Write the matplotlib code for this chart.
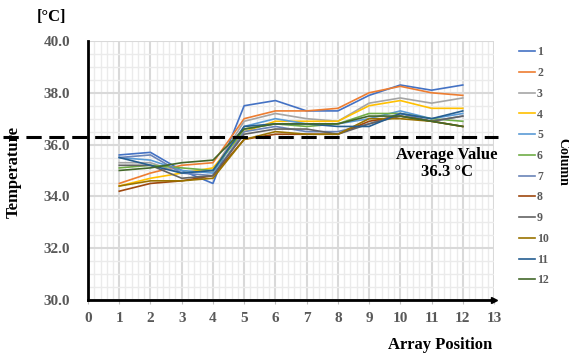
import numpy as np
import matplotlib
matplotlib.use("Agg")
import matplotlib.pyplot as plt
from matplotlib.ticker import MultipleLocator
import matplotlib.transforms as mtransforms

plt.rcParams['font.family'] = ['Liberation Serif', 'DejaVu Serif']

# array positions 1..12, one line per column
positions = list(range(1, 13))
columns = [str(i) for i in range(1, 13)]
col1 = [35.6, 35.7, 35.0, 34.5, 37.5, 37.7, 37.3, 37.3, 37.9, 38.3, 38.1, 38.3]
col2 = [34.5, 34.9, 35.2, 35.3, 37.0, 37.3, 37.3, 37.4, 38.0, 38.25, 38.0, 37.9]
col3 = [35.3, 35.3, 34.9, 35.0, 36.9, 37.2, 37.0, 36.9, 37.6, 37.8, 37.6, 37.8]
col4 = [34.4, 34.7, 34.9, 35.1, 36.5, 36.9, 36.9, 36.9, 37.5, 37.7, 37.4, 37.4]
col5 = [35.5, 35.4, 35.0, 34.9, 36.7, 37.0, 36.8, 36.8, 37.0, 37.3, 37.0, 37.2]
col6 = [35.1, 35.2, 35.1, 35.0, 36.6, 36.8, 36.7, 36.8, 37.2, 37.2, 37.0, 36.9]
col7 = [35.5, 35.6, 34.9, 34.8, 36.5, 36.7, 36.5, 36.5, 36.8, 37.2, 36.9, 37.1]
col8 = [34.2, 34.5, 34.6, 34.8, 36.2, 36.4, 36.4, 36.4, 36.9, 37.1, 36.9, 36.7]
col9 = [35.2, 35.2, 34.7, 34.8, 36.4, 36.6, 36.6, 36.4, 36.8, 37.1, 36.9, 37.1]
col10 = [34.4, 34.6, 34.6, 34.7, 36.2, 36.5, 36.4, 36.4, 37.0, 37.0, 36.9, 36.7]
col11 = [35.5, 35.2, 34.9, 35.0, 36.7, 36.8, 36.8, 36.7, 36.7, 37.2, 37.0, 37.3]
col12 = [35.0, 35.1, 35.3, 35.4, 36.6, 36.8, 36.8, 36.8, 37.1, 37.1, 36.9, 36.7]
series = [col1, col2, col3, col4, col5, col6, col7, col8, col9, col10, col11, col12]
average = 36.3

colors = ['#4472C4', '#ED7D31', '#A5A5A5', '#FFC000', '#5B9BD5', '#70AD47',
          '#6A84B8', '#9E480E', '#636363', '#997300', '#255E91', '#43682B']

fig = plt.figure(figsize=(5.69, 3.57), dpi=100)
ax = fig.add_axes([0.1547, 0.1597, 0.7135, 0.7255])

lines = []
for vals, c, name in zip(series, colors, columns):
    l, = ax.plot(positions, vals, color=c, lw=1.2, label=name, zorder=3)
    lines.append(l)

ax.set_xlim(0, 13)
ax.set_ylim(30, 40)
ax.xaxis.set_major_locator(MultipleLocator(1))
ax.xaxis.set_minor_locator(MultipleLocator(0.2))
ax.yaxis.set_major_locator(MultipleLocator(2))
ax.yaxis.set_minor_locator(MultipleLocator(0.5))
ax.grid(which='major', color='#d9d9d9', lw=1.5, zorder=0)
ax.grid(which='minor', color='#ebebeb', lw=1.0, zorder=0)
ax.set_axisbelow(True)

for s in ['top', 'right']:
    ax.spines[s].set_visible(False)
ax.spines['left'].set_linewidth(2)
ax.spines['bottom'].set_linewidth(2)
ax.plot(1, 0, '>k', transform=ax.transAxes, clip_on=False, markersize=5)

tick_font = dict(fontsize=11, fontweight='bold', color='#595959')
ax.set_yticks(np.arange(30, 40.1, 2))
ax.set_yticklabels(['%.1f' % v for v in np.arange(30, 40.1, 2)], **tick_font)
ax.set_xticks(range(0, 14))
ax.set_xticklabels([str(i) for i in range(0, 14)], **tick_font)
ax.tick_params(axis='y', which='both', length=0, pad=13)
ax.tick_params(axis='x', which='major', length=3, color='#bfbfbf', pad=6)
ax.tick_params(axis='x', which='minor', length=0)

# average dashed line, spans past the left axis
trans = mtransforms.blended_transform_factory(ax.transAxes, ax.transData)
ax.plot([-0.21, 1.01], [average, average], transform=trans,
        color='black', lw=2.2, ls=(0, (5, 2.5)), clip_on=False, zorder=4)

fig.text(0.786, 0.566, 'Average Value', ha='center', va='center',
         fontsize=12, fontweight='bold')
fig.text(0.786, 0.518, '%.1f °C' % average, ha='center', va='center',
         fontsize=12, fontweight='bold')

fig.text(0.09, 0.953, '[°C]', ha='center', va='center', fontsize=12, fontweight='bold')
fig.text(0.025, 0.518, 'Temperature', rotation=90, ha='center', va='center',
         fontsize=12, fontweight='bold')
fig.text(0.773, 0.033, 'Array Position', ha='center', va='center',
         fontsize=12, fontweight='bold')

leg = fig.legend(handles=lines, labels=columns, loc='upper left',
                 bbox_to_anchor=(0.893, 0.9), frameon=False, handlelength=1.35,
                 handletextpad=0.2, labelspacing=0.74,
                 prop={'family': 'Liberation Serif', 'weight': 'bold', 'size': 8.5})
for t in leg.get_texts():
    t.set_color('#595959')
fig.text(0.99, 0.545, 'Column', rotation=-90, ha='center', va='center',
         fontsize=10, fontweight='bold')

fig.savefig('out.png', dpi=100)
